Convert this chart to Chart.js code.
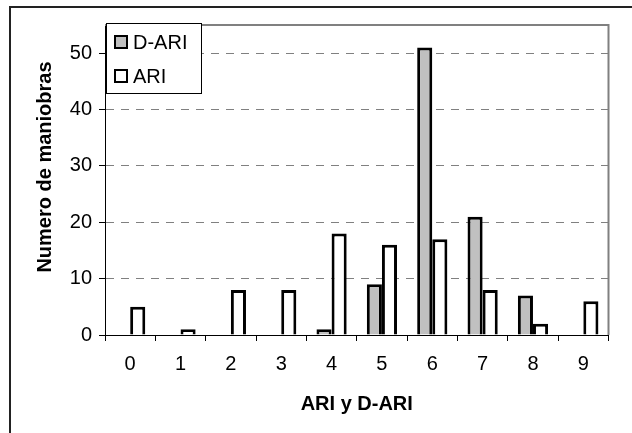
<!DOCTYPE html>
<html>
<head>
<meta charset="utf-8">
<script src="https://cdn.jsdelivr.net/npm/chart.js@4.4.1/dist/chart.umd.min.js"></script>
<style>
  html, body { margin: 0; padding: 0; background: #fff; }
  #wrap { width: 632px; height: 433px; position: relative; }
</style>
</head>
<body>
<div id="wrap"><canvas id="c" width="632" height="433"></canvas></div>
<script>
// Índices de maniobra (eje X)
const categories = ['0', '1', '2', '3', '4', '5', '6', '7', '8', '9'];
// Número de maniobras por índice
const dAriValues = [0, 0, 0, 0, 1, 9, 51, 21, 7, 0];
const ariValues  = [5, 1, 8, 8, 18, 16, 17, 8, 2, 6];
const seriesNames = ['D-ARI', 'ARI'];
const yTicks = [0, 10, 20, 30, 40, 50];
const yMax = 55;
const xTitle = 'ARI y D-ARI';
const yTitle = 'Numero de maniobras';

const FONT = "'Liberation Sans', Arial, sans-serif";

// Frame, plot-area border, axis titles and the boxed legend
const decorations = {
  id: 'decorations',
  beforeDraw(chart) {
    const { ctx } = chart;
    ctx.save();
    ctx.fillStyle = '#fff';
    ctx.fillRect(0, 0, chart.width, chart.height);
    // outer frame
    ctx.strokeStyle = '#222';
    ctx.lineWidth = 2;
    ctx.beginPath();
    ctx.moveTo(10, chart.height + 2);
    ctx.lineTo(10, 7);
    ctx.lineTo(chart.width + 2, 7);
    ctx.stroke();
    ctx.restore();
  },
  beforeDatasetsDraw(chart) {
    const { ctx, chartArea: a } = chart;
    ctx.save();
    ctx.strokeStyle = '#808080';
    ctx.lineWidth = 2;
    ctx.beginPath();
    ctx.moveTo(a.left, a.top);
    ctx.lineTo(a.right, a.top);
    ctx.lineTo(a.right, a.bottom);
    ctx.stroke();
    ctx.restore();
  },
  afterDraw(chart) {
    const { ctx, chartArea: a } = chart;
    ctx.save();
    // axis titles
    ctx.fillStyle = '#000';
    ctx.font = 'bold 20px ' + FONT;
    ctx.textAlign = 'center';
    ctx.textBaseline = 'middle';
    ctx.fillText(xTitle, (a.left + a.right) / 2, 404);
    ctx.translate(45, 167);
    ctx.rotate(-Math.PI / 2);
    ctx.fillText(yTitle, 0, 0);
    ctx.restore();

    // legend box
    ctx.save();
    const bx = 106.5, by = 23.5, bw = 95, bh = 70;
    ctx.fillStyle = '#fff';
    ctx.fillRect(bx, by, bw, bh);
    ctx.strokeStyle = '#000';
    ctx.lineWidth = 1;
    ctx.strokeRect(bx, by, bw, bh);
    const rows = [42, 76];
    chart.data.datasets.forEach((ds, i) => {
      const cy = rows[i];
      ctx.fillStyle = ds.backgroundColor;
      ctx.fillRect(115, cy - 6, 12, 12);
      ctx.strokeStyle = '#000';
      ctx.lineWidth = 2;
      ctx.strokeRect(115, cy - 6, 12, 12);
      ctx.fillStyle = '#000';
      ctx.font = '20px ' + FONT;
      ctx.textAlign = 'left';
      ctx.textBaseline = 'middle';
      ctx.fillText(ds.label, 133, cy + 1);
    });
    ctx.restore();
  }
};

new Chart(document.getElementById('c'), {
  type: 'bar',
  data: {
    labels: categories,
    datasets: [
      { label: seriesNames[0], data: dAriValues, backgroundColor: '#c0c0c0',
        borderColor: '#000', borderWidth: 3, borderSkipped: 'bottom', inflateAmount: 0 },
      { label: seriesNames[1], data: ariValues, backgroundColor: '#ffffff',
        borderColor: '#000', borderWidth: 3, borderSkipped: 'bottom', inflateAmount: 0 }
    ]
  },
  options: {
    responsive: false,
    animation: false,
    devicePixelRatio: 1,
    layout: { padding: { top: 25, right: 23.5, left: 0, bottom: 0 } },
    datasets: { bar: { categoryPercentage: 0.6, barPercentage: 1.0 } },
    plugins: {
      legend: { display: false },
      tooltip: { enabled: false },
      title: { display: false }
    },
    scales: {
      x: {
        type: 'category',
        offset: true,
        afterFit(s) { s.height = 98; },
        grid: {
          offset: true,
          drawOnChartArea: false,
          drawTicks: true,
          tickLength: 6,
          tickColor: '#000',
          tickWidth: 1
        },
        border: { display: true, color: '#000', width: 1 },
        ticks: {
          color: '#000',
          font: { family: FONT, size: 20 },
          padding: 11,
          maxRotation: 0,
          autoSkip: false
        }
      },
      y: {
        min: 0,
        max: yMax,
        afterFit(s) { s.width = 105; },
        afterBuildTicks(s) { s.ticks = yTicks.map(v => ({ value: v })); },
        grid: {
          color: c => (c.tick && c.tick.value === 0) ? 'rgba(0,0,0,0)' : '#808080',
          lineWidth: 1,
          tickBorderDash: [],
          tickColor: '#000',
          tickLength: 6,
          drawTicks: true
        },
        border: { display: true, color: '#000', width: 1, dash: [8, 7] },
        ticks: {
          color: '#000',
          font: { family: FONT, size: 20 },
          padding: 7,
          includeBounds: false
        }
      }
    }
  },
  plugins: [decorations]
});
</script>
</body>
</html>
